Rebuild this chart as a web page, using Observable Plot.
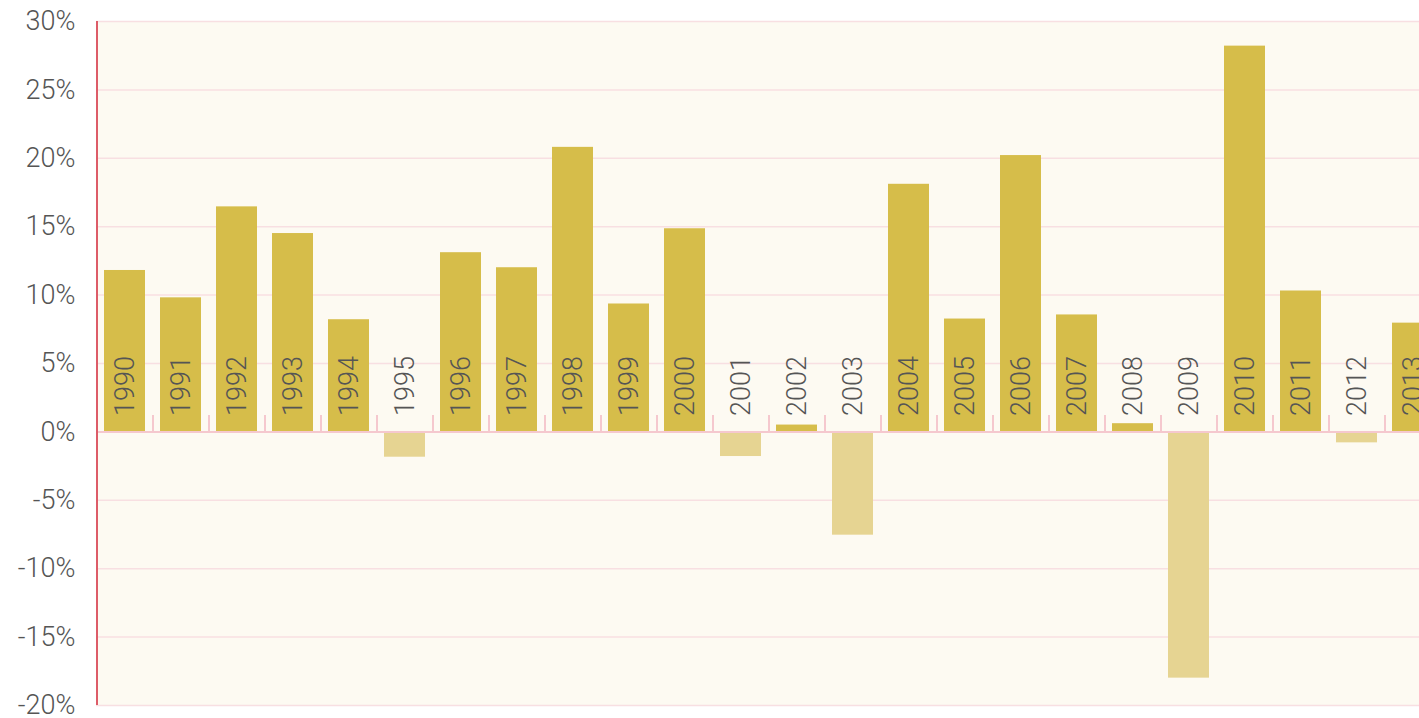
<!DOCTYPE html>
<html>
<head>
<meta charset="utf-8">
<script src="https://cdn.jsdelivr.net/npm/d3@7"></script>
<script src="https://cdn.jsdelivr.net/npm/@observablehq/plot@0.6"></script>
<style>
  html, body { margin: 0; padding: 0; background: #fff; overflow: hidden; }
  #chart { width: 1419px; height: 718px; overflow: hidden; }
</style>
</head>
<body>
<div id="chart"></div>
<script>
const years = ["1990","1991","1992","1993","1994","1995","1996","1997","1998","1999","2000","2001","2002","2003","2004","2005","2006","2007","2008","2009","2010","2011","2012","2013"];
const returns = [11.8, 9.8, 16.45, 14.5, 8.2, -1.85, 13.1, 12.0, 20.8, 9.35, 14.85, -1.8, 0.5, -7.55, 18.1, 8.25, 20.2, 8.55, 0.6, -18.0, 28.2, 10.3, -0.8, 7.95];
const yTicks = [-20, -15, -10, -5, 0, 5, 10, 15, 20, 25, 30];

const data = years.map((y, i) => ({year: y, v: returns[i]}));
const FONT = "Roboto, sans-serif";

const chart = Plot.plot({
  width: 1419,
  height: 718,
  marginLeft: 96,
  marginRight: 0,
  marginTop: 21,
  marginBottom: 13,
  style: {fontFamily: FONT, fontWeight: 300, overflow: "hidden", background: "#ffffff"},
  x: {domain: years, range: [96, 1440], paddingInner: 0.27, paddingOuter: 0.135, axis: null},
  y: {domain: [-20, 30]},
  marks: [
    Plot.frame({fill: "#fdfaf2", stroke: null}),
    Plot.gridY(yTicks, {stroke: "#f8dfe2", strokeOpacity: 1, strokeWidth: 1.5}),
    Plot.axisY(yTicks, {tickSize: 0, tickPadding: 21, tickFormat: d => d + "%", fontSize: 27, fontWeight: 300, fill: "#555555", label: null}),
    Plot.barY(data, {x: "year", y: "v", fill: d => d.v >= 0 ? "#d6bd4a" : "#e6d492"}),
    Plot.ruleY([0], {stroke: "#f5c8ce", strokeWidth: 2}),
    Plot.ruleX(years, {x: d => d, dx: -28, y1: 0, y2: 1.2, stroke: "#f5c8ce", strokeWidth: 2}),
    Plot.ruleX([years[0]], {x: d => d, dx: -28, y1: -20, y2: 30, stroke: "#dd5c68", strokeWidth: 2}),
    Plot.text(data, {x: "year", y: 0, text: "year", rotate: -90, textAnchor: "start", lineAnchor: "middle", dy: -16, fontSize: 27, fontWeight: 300, fill: "#555555"})
  ]
});
document.getElementById("chart").appendChild(chart);
</script>
</body>
</html>
